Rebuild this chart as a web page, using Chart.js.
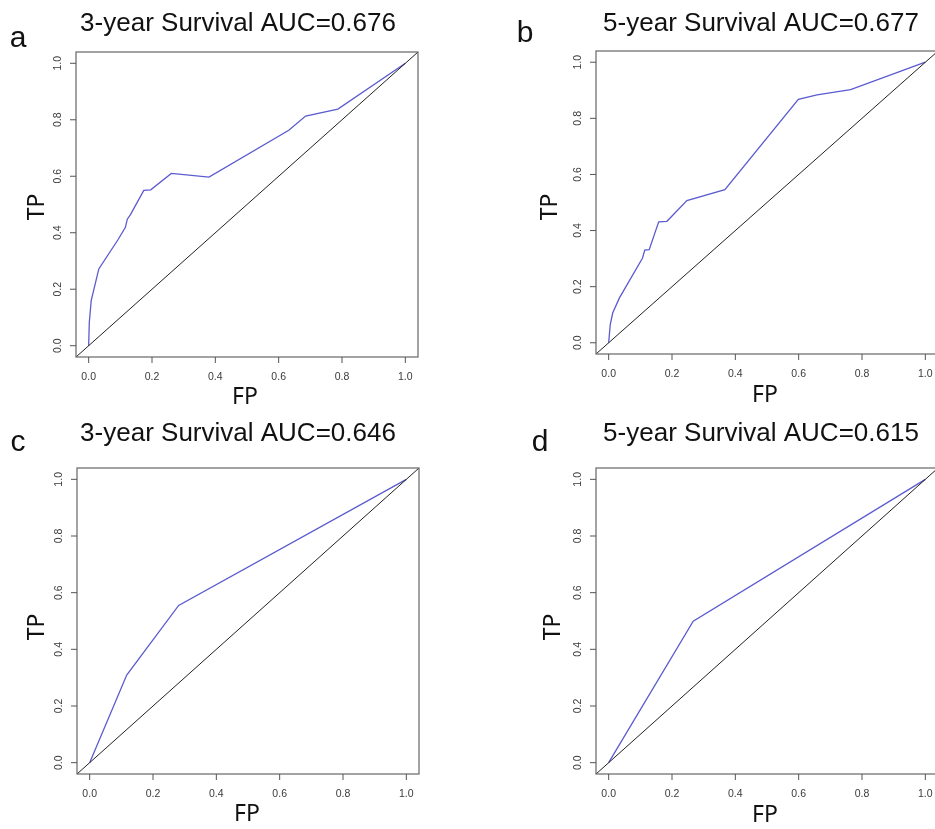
<!DOCTYPE html>
<html>
<head>
<meta charset="utf-8">
<script src="https://cdn.jsdelivr.net/npm/chart.js@4"></script>
<style>
  html, body { margin: 0; padding: 0; background: #fff; overflow: hidden; }
  body { width: 935px; height: 829px; position: relative; }
  .panel { position: absolute; }
</style>
</head>
<body>
<div class="panel" style="left:0;top:0;width:470px;height:410px"><canvas id="chartA"></canvas></div>
<div class="panel" style="left:470px;top:0;width:480px;height:410px"><canvas id="chartB"></canvas></div>
<div class="panel" style="left:0;top:410px;width:470px;height:419px"><canvas id="chartC"></canvas></div>
<div class="panel" style="left:470px;top:410px;width:480px;height:419px"><canvas id="chartD"></canvas></div>
<script>
// ROC data
const fpA = [0, 0.002, 0.008, 0.032, 0.093, 0.116, 0.122, 0.132, 0.174, 0.196, 0.261, 0.380, 0.632, 0.685, 0.787, 1];
const tpA = [0, 0.082, 0.160, 0.272, 0.376, 0.419, 0.448, 0.464, 0.550, 0.552, 0.610, 0.597, 0.763, 0.813, 0.838, 1];

const fpB = [0, 0.005, 0.013, 0.034, 0.107, 0.114, 0.128, 0.158, 0.184, 0.247, 0.367, 0.599, 0.658, 0.764, 1];
const tpB = [0, 0.065, 0.107, 0.160, 0.302, 0.330, 0.332, 0.431, 0.433, 0.507, 0.546, 0.868, 0.884, 0.902, 1];

const fpC = [0, 0.117, 0.281, 1];
const tpC = [0, 0.309, 0.555, 1];

const fpD = [0, 0.267, 1];
const tpD = [0, 0.499, 1];

const panelLetters = ['a', 'b', 'c', 'd'];
const panelTitles = [
  '3-year Survival AUC=0.676',
  '5-year Survival AUC=0.677',
  '3-year Survival AUC=0.646',
  '5-year Survival AUC=0.615'
];
const tickValues = [0, 0.2, 0.4, 0.6, 0.8, 1.0];
const tickLabels = ['0.0', '0.2', '0.4', '0.6', '0.8', '1.0'];
const axisMin = -0.04;
const axisMax = 1.04;

// per-panel layout: canvas size, plot box padding and text anchors
const layouts = [
  { id: 'chartA', w: 470, h: 410, pad: { left: 76, top: 52, right: 52, bottom: 53 },
    title: [238, 24], letter: [18, 47], tp: [37, 207], fp: [245, 397] },
  { id: 'chartB', w: 480, h: 410, pad: { left: 126, top: 51, right: 12, bottom: 56 },
    title: [291, 24], letter: [55, 42], tp: [80, 207], fp: [295, 395] },
  { id: 'chartC', w: 470, h: 419, pad: { left: 77, top: 58, right: 51, bottom: 55 },
    title: [238, 24], letter: [18, 41], tp: [37, 217], fp: [247, 404] },
  { id: 'chartD', w: 480, h: 419, pad: { left: 126, top: 58, right: 12, bottom: 55 },
    title: [291, 24], letter: [70, 41], tp: [83, 217], fp: [295, 405] }
];

const curves = [[fpA, tpA], [fpB, tpB], [fpC, tpC], [fpD, tpD]];

// R-like frame, ticks and labels
const rStylePlugin = {
  id: 'rStyle',
  afterDraw(chart, args, opts) {
    const ctx = chart.ctx;
    const area = chart.chartArea;
    const xs = chart.scales.x;
    const ys = chart.scales.y;
    ctx.save();

    // box
    ctx.strokeStyle = '#666';
    ctx.lineWidth = 1.2;
    ctx.strokeRect(area.left, area.top, area.right - area.left, area.bottom - area.top);

    // ticks
    ctx.strokeStyle = '#555';
    ctx.lineWidth = 1;
    ctx.fillStyle = '#3a3a3a';
    ctx.font = '10.5px "Liberation Sans", Arial, sans-serif';
    tickValues.forEach((v, i) => {
      const px = xs.getPixelForValue(v);
      ctx.beginPath();
      ctx.moveTo(px, area.bottom);
      ctx.lineTo(px, area.bottom + 6);
      ctx.stroke();
      ctx.textAlign = 'center';
      ctx.textBaseline = 'middle';
      ctx.fillText(tickLabels[i], px, area.bottom + 20);

      const py = ys.getPixelForValue(v);
      ctx.beginPath();
      ctx.moveTo(area.left, py);
      ctx.lineTo(area.left - 6, py);
      ctx.stroke();
      ctx.save();
      ctx.translate(area.left - 18, py);
      ctx.rotate(-Math.PI / 2);
      ctx.fillText(tickLabels[i], 0, 0);
      ctx.restore();
    });

    // title and panel letter
    ctx.fillStyle = '#111';
    ctx.textAlign = 'center';
    ctx.textBaseline = 'middle';
    ctx.font = '26px "Liberation Sans", Arial, sans-serif';
    ctx.fillText(opts.title, opts.titlePos[0], opts.titlePos[1]);

    ctx.textBaseline = 'alphabetic';
    ctx.font = '30px "Liberation Sans", Arial, sans-serif';
    ctx.fillText(opts.letter, opts.letterPos[0], opts.letterPos[1]);

    // axis titles
    ctx.textBaseline = 'middle';
    ctx.font = '23px "Noto Sans", sans-serif';
    ctx.fillText('FP', opts.fpPos[0], opts.fpPos[1]);
    ctx.save();
    ctx.translate(opts.tpPos[0], opts.tpPos[1]);
    ctx.rotate(-Math.PI / 2);
    ctx.fillText('TP', 0, 0);
    ctx.restore();

    ctx.restore();
  }
};

layouts.forEach((lay, i) => {
  const canvas = document.getElementById(lay.id);
  canvas.width = lay.w;
  canvas.height = lay.h;
  canvas.style.width = lay.w + 'px';
  canvas.style.height = lay.h + 'px';

  const [fp, tp] = curves[i];
  const rocPoints = fp.map((x, k) => ({ x: x, y: tp[k] }));

  new Chart(canvas, {
    type: 'scatter',
    data: {
      datasets: [{
        label: 'reference',
        data: [{ x: axisMin, y: axisMin }, { x: axisMax, y: axisMax }],
        showLine: true,
        borderColor: '#222',
        borderWidth: 1,
        pointRadius: 0
      }, {
        label: 'ROC',
        data: rocPoints,
        showLine: true,
        borderColor: '#5b5bd0',
        borderWidth: 1.3,
        pointRadius: 0,
        tension: 0
      }]
    },
    options: {
      responsive: false,
      animation: false,
      devicePixelRatio: 1,
      layout: { padding: lay.pad },
      plugins: {
        legend: { display: false },
        tooltip: { enabled: false },
        rStyle: {
          title: panelTitles[i],
          titlePos: lay.title,
          letter: panelLetters[i],
          letterPos: lay.letter,
          tpPos: lay.tp,
          fpPos: lay.fp
        }
      },
      scales: {
        x: { type: 'linear', min: axisMin, max: axisMax, display: false },
        y: { type: 'linear', min: axisMin, max: axisMax, display: false }
      }
    },
    plugins: [rStylePlugin]
  });
});
</script>
</body>
</html>
